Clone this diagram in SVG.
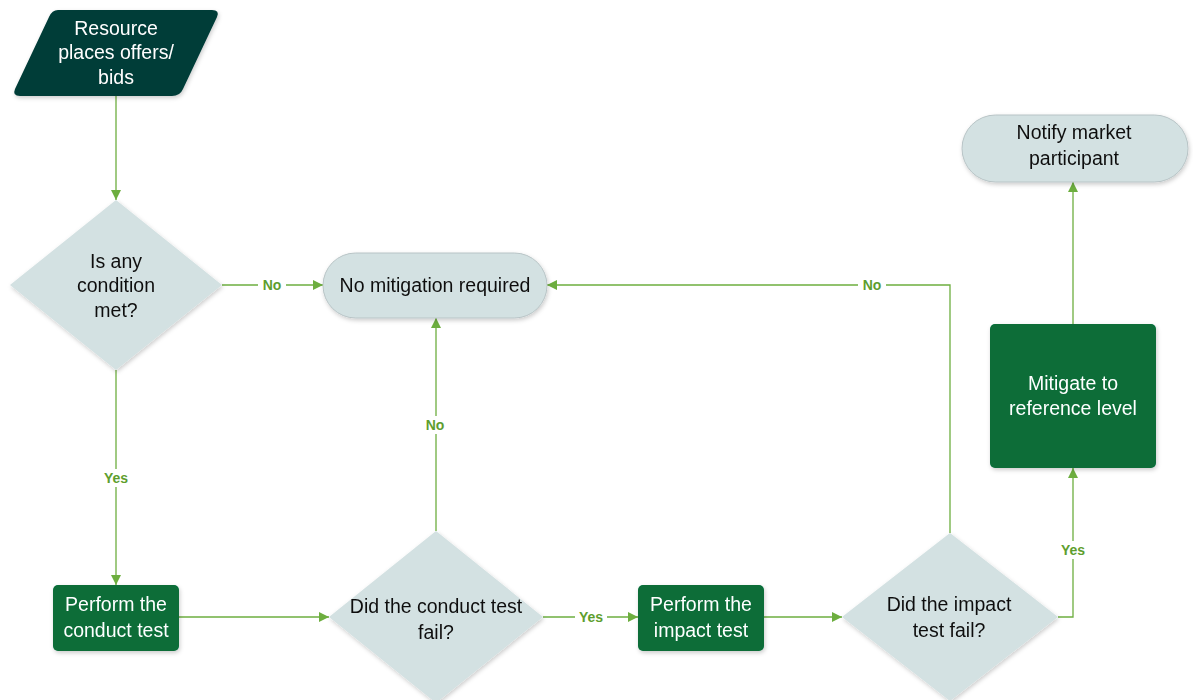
<svg xmlns="http://www.w3.org/2000/svg" width="1193" height="700" viewBox="0 0 1193 700">
<defs>
<marker id="ah" viewBox="0 0 10 10" refX="10" refY="5" markerWidth="10" markerHeight="10" markerUnits="userSpaceOnUse" orient="auto">
<path d="M0,0 L10,5 L0,10 z" fill="#6DAE3F"/>
</marker>
<filter id="sh" x="-10%" y="-10%" width="130%" height="130%">
<feDropShadow dx="1" dy="2" stdDeviation="2" flood-color="#000" flood-opacity="0.2"/>
</filter>
</defs>
<style>
.t{font-family:"Liberation Sans",Arial,sans-serif;font-size:19.5px;text-anchor:middle;dominant-baseline:central}
.w{fill:#ffffff}
.k{fill:#111111}
.dec{fill:#D3E1E2}
.term{fill:#D3E1E2;stroke:#B8C4C6;stroke-width:1}
.proc{fill:#076D38}
.e{fill:none;stroke:#6DAE3F;stroke-width:1.3;marker-end:url(#ah)}
.lbl{font-family:"Liberation Sans",Arial,sans-serif;font-size:14px;font-weight:bold;fill:#5E9E2E;text-anchor:middle;dominant-baseline:central}
.bg{fill:#ffffff}
</style>
<rect width="1193" height="700" fill="#ffffff"/>
<g id="connectors">
<path class="e" d="M116,96 L116,200"/>
<path class="e" d="M222,285 L323,285"/>
<rect class="bg" x="258" y="276" width="28" height="18"/>
<text class="lbl" x="272" y="285">No</text>
<path class="e" d="M116,370 L116,585"/>
<rect class="bg" x="100" y="469" width="32" height="18"/>
<text class="lbl" x="116" y="478">Yes</text>
<path class="e" d="M179,617 L329,617"/>
<path class="e" d="M436,531 L436,318"/>
<rect class="bg" x="421" y="416" width="30" height="18"/>
<text class="lbl" x="435" y="425">No</text>
<path class="e" d="M543,617 L638,617"/>
<rect class="bg" x="575" y="608" width="32" height="18"/>
<text class="lbl" x="591" y="617">Yes</text>
<path class="e" d="M764,617 L842,617"/>
<path class="e" d="M950,533 L950,285 L547,285"/>
<rect class="bg" x="858" y="276" width="28" height="18"/>
<text class="lbl" x="872" y="285">No</text>
<path class="e" d="M1058,617 L1073,617 L1073,468"/>
<rect class="bg" x="1057" y="541" width="32" height="18"/>
<text class="lbl" x="1073" y="550">Yes</text>
<path class="e" d="M1073,324 L1073,182"/>
</g>
<g id="n1" filter="url(#sh)">
<path d="M58,10 L212,10 Q220,10 217,17 L183,89 Q180,96 172,96 L20,96 Q12,96 15,89 L49,17 Q52,10 58,10 z" fill="#053D39"/>
<text class="t w" x="116" y="28">Resource</text>
<text class="t w" x="116" y="52">places offers/</text>
<text class="t w" x="116" y="77">bids</text>
</g>
<g id="n2" filter="url(#sh)">
<path class="dec" d="M116,200 L222,285 L116,370 L10,285 z"/>
<text class="t k" x="116" y="261">Is any</text>
<text class="t k" x="116" y="285">condition</text>
<text class="t k" x="116" y="310">met?</text>
</g>
<g id="n3" filter="url(#sh)">
<rect class="term" x="323" y="253" width="224" height="65" rx="32.5"/>
<text class="t k" x="435" y="285">No mitigation required</text>
</g>
<g id="n4" filter="url(#sh)">
<rect class="proc" x="53" y="585" width="126" height="66" rx="5"/>
<text class="t w" x="116" y="604">Perform the</text>
<text class="t w" x="116" y="630">conduct test</text>
</g>
<g id="n5" filter="url(#sh)">
<path class="dec" d="M436,531 L543,617 L436,703 L329,617 z"/>
<text class="t k" x="436" y="606">Did the conduct test</text>
<text class="t k" x="436" y="632">fail?</text>
</g>
<g id="n6" filter="url(#sh)">
<rect class="proc" x="638" y="585" width="126" height="66" rx="5"/>
<text class="t w" x="701" y="604">Perform the</text>
<text class="t w" x="701" y="630">impact test</text>
</g>
<g id="n7" filter="url(#sh)">
<path class="dec" d="M950,533 L1058,617 L950,701 L842,617 z"/>
<text class="t k" x="949" y="604">Did the impact</text>
<text class="t k" x="949" y="630">test fail?</text>
</g>
<g id="n8" filter="url(#sh)">
<rect class="proc" x="990" y="324" width="166" height="144" rx="5"/>
<text class="t w" x="1073" y="383">Mitigate to</text>
<text class="t w" x="1073" y="408">reference level</text>
</g>
<g id="n9" filter="url(#sh)">
<rect class="term" x="962" y="115" width="226" height="67" rx="33.5"/>
<text class="t k" x="1074" y="132">Notify market</text>
<text class="t k" x="1074" y="158">participant</text>
</g>
</svg>
